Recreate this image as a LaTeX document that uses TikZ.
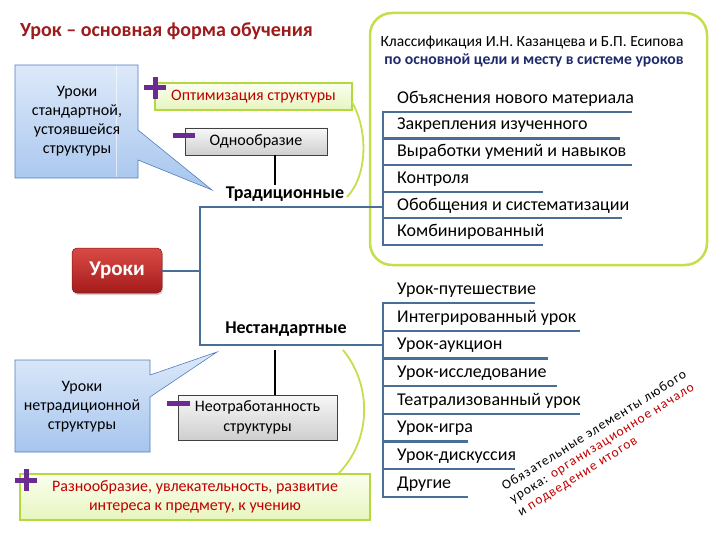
\documentclass[tikz,border=0pt]{standalone}
\usepackage{fontspec}
\setmainfont{Carlito}
\usetikzlibrary{shadows}
\definecolor{titlered}{HTML}{9E1B1B}
\definecolor{navy}{HTML}{1F2A6B}
\definecolor{steel}{HTML}{4A6F96}
\definecolor{limeline}{HTML}{C3DF4A}
\definecolor{limebox}{HTML}{B5D83E}
\definecolor{limetop}{HTML}{FBFFEF}
\definecolor{limebot}{HTML}{E6F5BE}
\definecolor{txtred}{HTML}{C00000}
\definecolor{purp}{HTML}{6B2C91}
\definecolor{cbtop}{HTML}{DDE9F9}
\definecolor{cbbot}{HTML}{A6C5EE}
\definecolor{cbdraw}{HTML}{4F7FBF}
\definecolor{btntop}{HTML}{D94A45}
\definecolor{btnbot}{HTML}{A51C1C}
\newcommand{\fz}[2]{\fontsize{#1}{#2}\selectfont}
\tikzset{
  item/.style={anchor=west, inner sep=0pt, font=\fz{18}{20}},
  uline/.style={steel, line width=2.2pt},
  frameline/.style={steel, line width=2pt},
  grbox/.style={draw=black!75, top color=gray!6, bottom color=gray!38, line width=0.7pt, font=\fz{16}{20}, align=center, inner sep=0pt},
  lmbox/.style={draw=limebox, line width=1.6pt, top color=limetop, bottom color=limebot, text=txtred, font=\fz{16}{19}, align=center, inner sep=0pt},
  callout/.style={draw=cbdraw, line width=0.6pt, top color=cbtop, bottom color=cbbot},
  cbtext/.style={font=\fz{16}{19}, align=center, inner sep=0pt},
  sign/.style={purp, line width=5pt},
  limecurve/.style={limeline, line width=1.8pt},
  branch/.style={font=\bfseries\fz{18}{20}, inner sep=0pt},
}
\begin{document}
\begin{tikzpicture}[x=1pt, y=-1pt]
\useasboundingbox (0,0) rectangle (720,540);

% title
\node[anchor=west, inner sep=0pt, text=titlered, font=\bfseries\fz{20}{22}] (title) at (20,31) {Урок – основная форма обучения};

% lime frame with classification header
\node[draw=limeline, line width=2.5pt, rounded corners=22pt, minimum width=337pt, minimum height=252pt, inner sep=0pt] (frame) at (538.5,139) {};
\node[inner sep=0pt, font=\fz{15.5}{18}] (h1) at (532,43) {Классификация И.Н. Казанцева и Б.П. Есипова};
\node[inner sep=0pt, text=navy, font=\bfseries\fz{15.7}{18}] (h2) at (534,60) {по основной цели и месту в системе уроков};

% upper callout
\path[callout] (15,65) -- (138,65) -- (138,130) -- (212,190) -- (138,160) -- (138,178) -- (15,178) -- cycle;
\draw[white, opacity=0.6, line width=0.8pt] (116,66) -- (116,177);
\node[cbtext] (cb1) at (77,121) {Уроки\\стандартной,\\устоявшейся\\структуры};

% optimisation box
\node[lmbox, minimum width=197pt, minimum height=27pt] (opt) at (253.5,96.5) {Оптимизация структуры};
\draw[sign] (144,88) -- (166,88) (155,77) -- (155,99);

% monotony box
\node[grbox, minimum width=142pt, minimum height=27pt] (odn) at (256,141.5) {Однообразие};
\draw[sign] (173,136) -- (195,136);

% traditional
\node[branch] (trad) at (285,194) {Традиционные};
\coordinate (tradtop) at (275,185);
\draw[black, line width=1.8pt] (odn.south -| tradtop) -- (tradtop);
\coordinate (c1a) at (352,102);
\coordinate (c1b) at (347,197);
\draw[limecurve] (c1a) .. controls (368,130) and (368,175) .. (c1b);

% frame lines
\coordinate (ftop) at (383,207);
\coordinate (fbot) at (383,345);
\draw[frameline] (ftop) -- (200,207) -- (200,345) -- (fbot);

% button
\node[rounded corners=5pt, top color=btntop, bottom color=btnbot, draw=btnbot!80!black, line width=0.5pt, drop shadow={opacity=0.35, shadow xshift=1pt, shadow yshift=-2pt}, minimum width=90pt, minimum height=45pt, text=white, font=\bfseries\fz{21}{22}] (btn) at (117,270.5) {Уроки};
\coordinate (fl) at (200,270.5);
\draw[frameline] (btn.east) -- (fl);

% non-standard
\node[branch] (nest) at (286,329) {Нестандартные};
\coordinate (nestbot) at (275,350);
\node[grbox, minimum width=159pt, minimum height=45pt] (neo) at (257.5,417.5) {Неотработанность\\структуры};
\draw[black, line width=1.8pt] (nestbot) -- (neo.north -| nestbot);
\draw[sign] (167,403) -- (190,403);

% lower callout
\path[callout] (15,360) -- (150,360) -- (150,375) -- (217,352) -- (150,397) -- (150,452) -- (15,452) -- cycle;
\node[cbtext] (cb2) at (82,407) {Уроки\\нетрадиционной\\структуры};

% variety box
\node[lmbox, minimum width=350pt, minimum height=46pt] (var) at (195,497) {Разнообразие, увлекательность, развитие\\интереса к предмету, к учению};
\draw[sign] (15,480) -- (37,480) (26,469) -- (26,491);
\coordinate (c2a) at (343,350);
\coordinate (c2b) at (338,474);
\draw[limecurve] (c2a) .. controls (372,385) and (372,440) .. (c2b);

% list 1
\draw[uline] (383,110.8) -- (383,246.2);
\foreach \t/\yy/\xe [count=\i] in {Объяснения нового материала/112/632, Закрепления изученного/138.6/620, Выработки умений и навыков/165.2/632, Контроля/191.8/543, Обобщения и систематизации/218.4/622, Комбинированный/245/543}{
  \node[item] (a\i) at (397,\yy-13) {\t};
  \draw[uline] (383,\yy) -- (\xe,\yy);
}

% list 2
\draw[uline] (383,301.8) -- (383,498.2);
\foreach \t/\yy/\xe [count=\i] in {Урок-путешествие/303/535, Интегрированный урок/330.7/580, Урок-аукцион/358.4/548, Урок-исследование/386.1/557, Театрализованный урок/413.8/580, Урок-игра/441.5/468, Урок-дискуссия/469.2/515, Другие/497/468}{
  \node[item] (b\i) at (397,\yy-13) {\t};
  \draw[uline] (383,\yy) -- (\xe,\yy);
}

% rotated note
\node[rotate=32, anchor=north west, inner sep=0pt, align=left, font=\fz{13.5}{15}\addfontfeature{LetterSpace=8}] (note) at (500,483) {Обязательные элементы любого\\урока: \textcolor{txtred}{организационное начало}\\и \textcolor{txtred}{подведение итогов}};
\end{tikzpicture}
\end{document}
